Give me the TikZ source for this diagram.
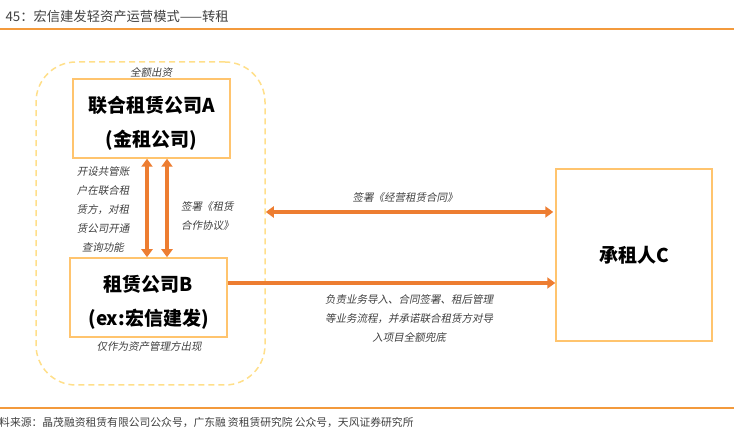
\documentclass[tikz,border=0pt]{standalone}
\usepackage{fontspec}
\setmainfont{Noto Sans CJK SC}
\newfontfamily\slfont{Noto Sans CJK SC}[FakeSlant=0.2]
\usetikzlibrary{arrows.meta}
\definecolor{accent}{HTML}{ED7D31}
\definecolor{rule}{HTML}{F39A3C}
\definecolor{boxline}{HTML}{FFC46E}
\definecolor{frameline}{HTML}{FFDF8A}
\definecolor{note}{HTML}{404040}
\newcommand\liftline{\rule{0pt}{26pt}}

\begin{document}
\begin{tikzpicture}[x=1pt, y=-1pt, >={Triangle[length=8pt,width=11pt]}]
		\tikzstyle{party} = [draw=boxline, line width=1.5pt, align=center, font=\bfseries\fontsize{19}{34}\selectfont, inner sep=0pt]
		\tikzstyle{memo} = [text=note, font=\slfont\fontsize{10.5}{19}\selectfont, inner sep=0pt]
		\tikzstyle{flow} = [draw=accent, line width=4pt]
		\useasboundingbox (0,0) rectangle (734,430);

		% title and source
		\node[anchor=west, text=note, font=\fontsize{13.3}{15}\selectfont] (title) at (2,16) {45：宏信建发轻资产运营模式——转租};
		\draw[rule, line width=1.5pt] (0,29) -- (734,29);
		\draw[rule, line width=1.5pt] (0,408) -- (734,408);
		\node[anchor=west, text=note, font=\fontsize{10.8}{12}\selectfont, inner sep=0pt] (source) at (-1,422) {料来源：晶茂融资租赁有限公司公众号，广东融\hspace{2pt}资租赁研究院\hspace{2pt}公众号，天风证券研究所};

		% parties
		\node[draw=frameline, dashed, dash pattern=on 6pt off 4pt, rounded corners=40pt, line width=1.5pt, minimum width=229pt, minimum height=323pt] (frame) at (150.5,223.5) {};
		\node[party, minimum width=157pt, minimum height=79pt] (A) at (151.5,118.5) {\liftline 联合租赁公司A\\(金租公司)};
		\node[party, minimum width=157pt, minimum height=79pt] (B) at (148.5,297.5) {\liftline 租赁公司B\\(ex:宏信建发)};
		\node[party, minimum width=156pt, minimum height=172pt] (C) at (634,255) {承租人C};

		% connectors
		\draw[flow, <->] ([xshift=-4.5pt]A.south) -- ([xshift=-4.5pt]A.south |- B.north);
		\draw[flow, <->] ([xshift=15.5pt]A.south) -- ([xshift=15.5pt]A.south |- B.north);
		\draw[flow, <->, shorten >=2pt] (frame.east |- 0,212) -- (C.west |- 0,212);
		\draw[flow, ->] (B.east |- 0,283) -- (C.west |- 0,283);

		% notes
		\node[memo] (fund) at (151,72) {全额出资};
		\node[memo, align=center] (escrow) at (103,209) {开设共管账\\户在联合租\\赁方，对租\\赁公司开通\\查询功能};
		\node[memo, align=left, anchor=west] (coop) at (181,216) {签署《租赁\\合作协议》};
		\node[memo] (contract) at (405,198) {签署《经营租赁合同》};
		\node[memo, align=center] (duty) at (409,319) {负责业务导入、合同签署、租后管理\\等业务流程，并承诺联合租赁方对导\\入项目全额兜底};
		\node[memo] (role) at (149,347) {仅作为资产管理方出现};
\end{tikzpicture}
\end{document}
